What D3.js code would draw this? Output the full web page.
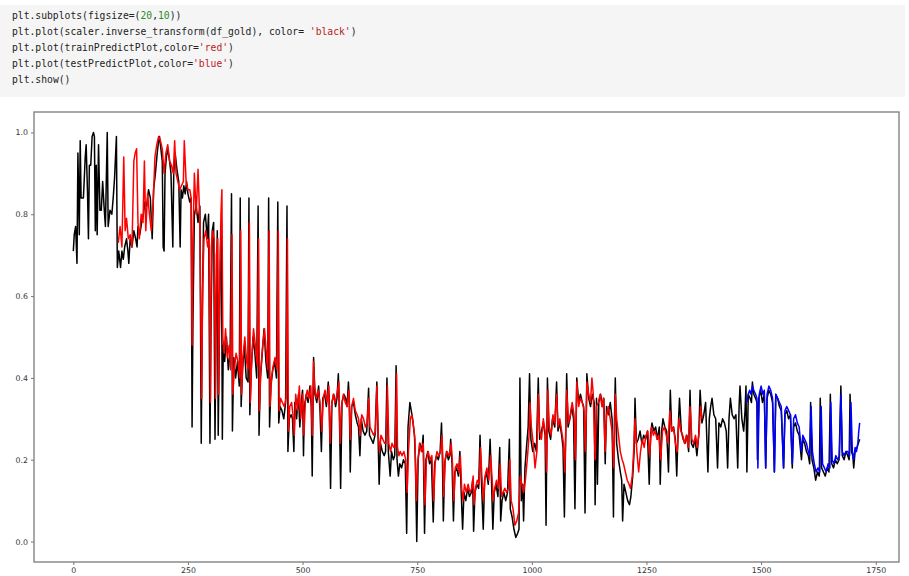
<!DOCTYPE html>
<html>
<head>
<meta charset="utf-8">
<script src="https://cdn.jsdelivr.net/npm/d3@7"></script>
<style>
  body { margin: 0; background: #fff; }
</style>
</head>
<body>
<div id="viz"></div>
<script>
// notebook cell text
const codeLines = [
  [['plt.subplots(figsize=(', 'k'], ['20', 'n'], [',', 'k'], ['10', 'n'], ['))', 'k']],
  [['plt.plot(scaler.inverse_transform(df_gold), color= ', 'k'], ["'black'", 's'], [')', 'k']],
  [['plt.plot(trainPredictPlot,color=', 'k'], ["'red'", 's'], [')', 'k']],
  [['plt.plot(testPredictPlot,color=', 'k'], ["'blue'", 's'], [')', 'k']],
  [['plt.show()', 'k']]
];

// ticks
const xTicks = [0, 250, 500, 750, 1000, 1250, 1500, 1750];
const yTicks = [0.0, 0.2, 0.4, 0.6, 0.8, 1.0];

const actual = [
  [0,0.71],[2,0.75],[5,0.77],[8,0.68],[10,0.95],[13,0.75],[15,0.98],[17,0.84],[22,0.84],[26,0.94],
  [28,0.97],[31,0.85],[33,0.74],[35,0.92],[38,0.92],[41,0.99],[44,1.0],[46,0.99],[48,0.76],[50,0.92],
  [52,0.75],[55,0.97],[58,0.81],[61,0.81],[64,0.88],[67,0.82],[70,0.77],[74,1.0],[76,0.77],[80,0.81],
  [84,0.80],[87,0.84],[90,0.89],[94,0.99],[96,0.67],[99,0.71],
  [100,0.70],[103,0.67],[106,0.71],[109,0.69],[112,0.72],[116,0.74],[119,0.71],[121,0.68],[124,0.74],
  [128,0.72],[132,0.76],[136,0.74],[139,0.72],[141,0.77],[145,0.75],[149,0.78],[153,0.80],[156,0.83],
  [160,0.82],[164,0.86],[168,0.84],[172,0.74],[175,0.86],[179,0.90],[183,0.95],[186,0.98],[188,0.99],
  [191,0.96],[194,0.93],[196,0.72],[198,0.71],[200,0.90],[203,0.94],[206,0.96],[210,0.93],[213,0.90],
  [217,0.72],[219,0.90],[222,0.95],[226,0.91],[230,0.88],[233,0.72],[235,0.86],[238,0.84],[241,0.87],
  [244,0.85],[247,0.88],[250,0.85],[254,0.83],
  [257,0.84],[259,0.28],[261,0.55],[264,0.80],[268,0.82],[272,0.78],[276,0.82],[279,0.24],[281,0.52],
  [284,0.78],[288,0.80],[292,0.74],[295,0.80],[298,0.24],[300,0.50],[303,0.76],[306,0.78],[309,0.25],
  [311,0.50],[314,0.76],[316,0.26],[318,0.46],[321,0.72],[323,0.78],[325,0.25],[327,0.48],[330,0.44],
  [334,0.50],[338,0.42],[342,0.46],[345,0.85],[347,0.27],[350,0.45],[354,0.40],[358,0.44],[362,0.38],
  [364,0.84],[366,0.33],[369,0.42],[373,0.48],[377,0.40],[381,0.39],[383,0.84],[385,0.31],[388,0.42],
  [392,0.50],[396,0.46],[400,0.40],[403,0.82],[405,0.26],[408,0.40],[412,0.46],[416,0.52],[420,0.44],
  [424,0.40],[426,0.84],[428,0.28],[431,0.38],[435,0.42],[439,0.44],[443,0.40],[446,0.83],[448,0.29],
  [451,0.33],[455,0.32],[459,0.30],[463,0.34],[466,0.82],[468,0.22],[471,0.30],[475,0.31],
  [478,0.30],[481,0.22],[483,0.34],[487,0.30],[491,0.36],[494,0.28],[497,0.34],[500,0.37],[502,0.21],
  [504,0.33],[508,0.36],[512,0.34],[516,0.38],[519,0.33],[521,0.16],[524,0.45],[527,0.36],[531,0.34],
  [535,0.38],[538,0.32],[541,0.22],[544,0.35],[548,0.36],[552,0.33],[556,0.39],[558,0.35],[561,0.13],
  [564,0.34],[568,0.36],[572,0.33],[575,0.35],[578,0.41],[580,0.33],[583,0.13],[586,0.34],[590,0.36],
  [594,0.35],[597,0.33],[600,0.39],[602,0.34],[604,0.17],[607,0.33],[611,0.34],[615,0.31],[619,0.29],
  [622,0.28],[625,0.21],[628,0.30],[632,0.27],[636,0.26],[640,0.27],[644,0.375],[646,0.26],[650,0.25],
  [654,0.24],[658,0.26],[662,0.39],[665,0.24],[667,0.14],[670,0.24],[674,0.22],[678,0.21],[681,0.22],
  [684,0.40],[687,0.22],[691,0.16],[694,0.22],[698,0.20],[701,0.21],[704,0.43],[706,0.20],[709,0.16],
  [712,0.19],[716,0.18],[720,0.20],[724,0.19],[727,0.02],[730,0.28],[734,0.34],[737,0.32],[740,0.30],
  [744,0.26],[746,0.20],[749,0.0],[752,0.20],[756,0.24],[760,0.22],[763,0.26],[766,0.02],[769,0.20],
  [773,0.22],[777,0.19],[781,0.20],[785,0.048],[788,0.19],
  [792,0.21],[796,0.20],[800,0.22],[803,0.29],[805,0.20],[807,0.05],[810,0.19],[814,0.22],[818,0.20],
  [821,0.21],[823,0.25],[826,0.19],[829,0.05],[832,0.17],[836,0.18],[840,0.16],[843,0.22],[846,0.12],
  [849,0.03],[852,0.12],[856,0.10],[860,0.13],[864,0.11],[868,0.12],[871,0.15],[873,0.025],[876,0.12],
  [880,0.14],[884,0.13],[887,0.26],[890,0.15],[894,0.03],[897,0.15],[901,0.17],[905,0.14],[909,0.25],
  [912,0.15],[915,0.03],[918,0.12],[922,0.14],[926,0.11],[930,0.23],[932,0.05],[935,0.10],[939,0.12],
  [943,0.10],[947,0.12],[951,0.25],[953,0.08],[957,0.06],[961,0.03],[965,0.01],[969,0.02],[972,0.03],
  [974,0.40],[977,0.10],[980,0.14],[982,0.05],[985,0.18],[989,0.24],[992,0.28],[995,0.41],[998,0.25],
  [1002,0.22],[1006,0.24],[1010,0.22],[1014,0.40],[1017,0.25],[1021,0.27],[1025,0.29],[1029,0.26],
  [1031,0.04],[1034,0.40],[1037,0.27],[1041,0.25],[1045,0.30],[1050,0.28],[1054,0.39],[1057,0.27],
  [1061,0.29],[1065,0.26],[1068,0.23],[1071,0.06],[1076,0.41],[1079,0.28],[1083,0.30],[1087,0.33],
  [1091,0.30],[1094,0.08],[1098,0.40],[1102,0.34],[1106,0.36],[1110,0.34],[1113,0.33],[1116,0.07],
  [1120,0.41],[1124,0.35],[1128,0.33],
  [1132,0.36],[1136,0.34],[1138,0.09],[1141,0.35],[1143,0.14],[1146,0.34],[1150,0.36],[1154,0.33],
  [1157,0.35],[1160,0.19],[1163,0.33],[1167,0.31],[1171,0.34],[1175,0.30],[1178,0.06],[1180,0.28],
  [1182,0.40],[1185,0.24],[1189,0.20],[1193,0.17],[1196,0.15],[1198,0.05],[1201,0.14],[1205,0.12],
  [1209,0.10],[1213,0.09],[1216,0.11],[1220,0.16],[1223,0.22],[1225,0.35],[1228,0.24],[1232,0.25],
  [1236,0.27],[1240,0.24],[1244,0.26],[1248,0.25],[1252,0.27],[1256,0.14],[1259,0.26],[1262,0.29],
  [1266,0.27],[1270,0.28],[1274,0.25],[1278,0.28],[1280,0.14],[1283,0.27],[1286,0.30],[1290,0.28],
  [1294,0.27],[1298,0.17],[1302,0.37],[1305,0.27],[1309,0.28],[1313,0.25],[1316,0.16],[1319,0.27],
  [1322,0.35],[1326,0.27],[1330,0.25],[1334,0.24],[1338,0.26],[1342,0.22],[1345,0.37],[1348,0.24],
  [1352,0.23],[1356,0.25],[1360,0.21],[1364,0.26],[1367,0.37],[1371,0.29],[1375,0.31],[1379,0.34],
  [1384,0.17],[1387,0.30],[1390,0.33],[1393,0.35],[1397,0.31],[1401,0.30],[1405,0.18],[1408,0.29],
  [1412,0.28],[1416,0.30],[1420,0.29],[1424,0.27],[1427,0.18],[1430,0.30],[1433,0.35],[1437,0.31],
  [1441,0.30],[1445,0.31],[1449,0.18],[1452,0.33],[1454,0.38],[1458,0.30],[1462,0.27],[1465,0.32],
  [1467,0.38],[1469,0.17],[1472,0.36],[1476,0.35],[1479,0.34],[1481,0.39],[1484,0.36],[1488,0.35],
  [1491,0.34],[1492,0.20],[1495,0.35],[1499,0.37],[1503,0.34],[1507,0.36],[1510,0.18],[1513,0.35],
  [1517,0.37],[1521,0.36],[1525,0.34],[1529,0.17],[1532,0.36],[1536,0.35],[1540,0.33],[1544,0.32],
  [1549,0.18],[1552,0.31],[1556,0.32],[1560,0.30],[1564,0.31],[1568,0.18],[1571,0.28],[1575,0.29],
  [1579,0.27],[1583,0.26],[1588,0.20],[1591,0.25],[1595,0.24],[1599,0.22],[1603,0.21],[1606,0.19],
  [1608,0.34],[1611,0.20],[1615,0.18],[1619,0.15],[1623,0.17],[1627,0.16],[1629,0.35],[1632,0.18],
  [1636,0.17],[1640,0.16],[1644,0.18],[1648,0.17],[1651,0.36],[1654,0.19],[1658,0.18],[1662,0.20],
  [1666,0.19],[1670,0.20],[1674,0.38],[1677,0.21],[1681,0.20],[1685,0.22],[1689,0.21],[1692,0.20],
  [1694,0.36],[1697,0.22],[1700,0.21],[1702,0.18],[1705,0.22],[1709,0.23],[1712,0.24],[1715,0.25]
];

// train prediction (red)
const trainPredict = [
  [98,0.73],[102,0.77],[106,0.72],[110,0.94],[113,0.76],[116,0.79],[120,0.74],[124,0.75],[128,0.72],
  [132,0.93],[135,0.95],[138,0.96],[141,0.78],[144,0.74],[148,0.80],[152,0.78],[155,0.93],[158,0.76],
  [162,0.85],[166,0.80],[170,0.76],[174,0.82],[178,0.94],[182,0.97],[186,0.99],[190,0.98],[194,0.96],
  [198,0.90],[202,0.95],[206,0.97],[210,0.93],[214,0.92],[218,0.90],[221,0.98],[224,0.90],[228,0.88],
  [232,0.86],[236,0.87],[240,0.88],[242,0.98],[246,0.88],[250,0.86],[254,0.86],[257,0.84],
  [259,0.48],[261,0.74],[264,0.90],[268,0.80],[272,0.91],[276,0.78],[280,0.35],[282,0.62],[285,0.74],
  [289,0.76],[293,0.72],[296,0.74],[299,0.34],[301,0.72],[304,0.76],[307,0.74],[310,0.35],[312,0.70],
  [315,0.74],[317,0.36],[319,0.60],[322,0.80],[324,0.86],[326,0.50],[329,0.46],[332,0.52],[336,0.45],
  [340,0.48],[343,0.42],[346,0.75],[348,0.36],[351,0.42],[355,0.46],[359,0.44],[363,0.40],[365,0.76],
  [367,0.36],[370,0.45],[374,0.50],[378,0.44],[381,0.42],[384,0.78],[386,0.34],[389,0.44],[393,0.52],
  [397,0.48],[401,0.43],[404,0.74],[406,0.32],[409,0.42],[413,0.48],[417,0.52],[421,0.46],[424,0.42],
  [427,0.76],[429,0.33],[432,0.40],[436,0.43],[440,0.45],[444,0.42],[447,0.76],[449,0.32],[452,0.35],
  [456,0.34],[460,0.33],[464,0.35],[467,0.74],[469,0.27],[472,0.33],[476,0.34],
  [479,0.31],[482,0.26],[485,0.36],[489,0.32],[493,0.38],[496,0.30],[500,0.36],[503,0.26],[506,0.34],
  [510,0.37],[514,0.35],[518,0.38],[521,0.26],[524,0.44],[526,0.38],[530,0.35],[534,0.37],[538,0.34],
  [542,0.27],[545,0.35],[549,0.37],[553,0.34],[557,0.38],[560,0.24],[563,0.33],[567,0.36],[571,0.34],
  [575,0.36],[579,0.39],[582,0.24],[585,0.33],[589,0.36],[593,0.34],[597,0.33],[601,0.37],[604,0.25],
  [607,0.33],[611,0.35],[615,0.32],[619,0.31],[622,0.30],[626,0.26],[629,0.31],[633,0.30],[637,0.28],
  [641,0.29],[644,0.35],[647,0.28],[651,0.27],[655,0.26],[659,0.27],[662,0.38],[665,0.26],[668,0.22],
  [671,0.26],[675,0.25],[679,0.24],[682,0.24],[685,0.38],[688,0.24],[692,0.22],[695,0.24],[699,0.23],
  [702,0.23],[705,0.41],[707,0.23],[710,0.21],[713,0.22],[717,0.21],[721,0.22],[725,0.20],[728,0.12],
  [731,0.22],[735,0.30],[738,0.31],[741,0.29],[745,0.25],[748,0.10],[751,0.19],[755,0.24],[759,0.22],
  [763,0.24],[767,0.09],[770,0.20],[774,0.22],[778,0.20],[782,0.21],[786,0.10],[789,0.19],
  [793,0.22],[797,0.21],[801,0.22],[804,0.26],[806,0.20],[808,0.11],[811,0.20],[815,0.22],[819,0.21],
  [822,0.22],[824,0.24],[827,0.19],[830,0.10],[833,0.18],[837,0.19],[841,0.17],[844,0.21],[847,0.13],
  [850,0.10],[853,0.14],[857,0.12],[861,0.14],[865,0.12],[869,0.13],[872,0.16],[874,0.09],[877,0.13],
  [881,0.15],[885,0.14],[888,0.23],[891,0.16],[895,0.10],[898,0.16],[902,0.18],[906,0.15],[910,0.21],
  [913,0.16],[916,0.10],[919,0.13],[923,0.15],[927,0.13],[931,0.19],[934,0.11],[937,0.12],[941,0.13],
  [945,0.12],[949,0.13],[952,0.20],[955,0.10],[959,0.08],[963,0.04],[967,0.05],[971,0.07],[975,0.16],
  [978,0.14],[982,0.12],[986,0.15],[990,0.20],[994,0.26],[996,0.34],[999,0.28],[1003,0.24],[1007,0.18],
  [1011,0.22],[1014,0.36],[1017,0.27],[1021,0.25],[1025,0.30],[1029,0.27],[1032,0.17],[1035,0.37],
  [1038,0.28],[1042,0.26],[1046,0.31],[1050,0.29],[1054,0.36],[1057,0.28],[1061,0.30],[1065,0.27],
  [1069,0.24],[1072,0.17],[1076,0.37],[1080,0.29],[1084,0.31],[1088,0.34],[1092,0.31],[1095,0.20],
  [1098,0.39],[1102,0.33],[1106,0.35],[1110,0.34],[1114,0.32],[1117,0.22],[1120,0.39],[1124,0.36],
  [1128,0.34],
  [1131,0.40],[1134,0.36],[1138,0.20],[1141,0.33],[1145,0.34],[1149,0.36],[1153,0.33],[1156,0.35],
  [1160,0.22],[1163,0.31],[1167,0.33],[1171,0.30],[1175,0.27],[1179,0.18],[1182,0.36],[1185,0.30],
  [1189,0.26],[1193,0.22],[1197,0.20],[1200,0.19],[1204,0.17],[1208,0.15],[1212,0.14],[1215,0.13],
  [1219,0.16],[1222,0.22],[1225,0.30],[1229,0.22],[1233,0.17],[1237,0.22],[1241,0.25],[1245,0.23],
  [1249,0.26],[1253,0.27],[1257,0.21],[1261,0.28],[1265,0.26],[1269,0.27],[1273,0.25],[1277,0.26],
  [1281,0.20],[1285,0.27],[1289,0.28],[1293,0.26],[1297,0.24],[1301,0.32],[1305,0.27],[1309,0.28],
  [1313,0.24],[1317,0.22],[1321,0.30],[1325,0.27],[1329,0.26],[1333,0.24],[1337,0.26],[1341,0.23],
  [1345,0.33],[1349,0.25],[1353,0.24],[1357,0.26],[1361,0.23],[1365,0.27],[1368,0.33],[1371,0.30]
];

// test prediction (blue)
const testPredict = [
  [1469,0.34],[1472,0.36],[1475,0.37],[1478,0.36],[1481,0.38],[1484,0.37],[1488,0.36],[1491,0.35],
  [1493,0.18],[1496,0.36],[1500,0.38],[1504,0.36],[1507,0.37],[1510,0.18],[1513,0.36],[1517,0.38],
  [1521,0.37],[1525,0.35],[1529,0.17],[1532,0.36],[1536,0.35],[1540,0.34],[1544,0.33],[1549,0.18],
  [1552,0.32],[1556,0.33],[1560,0.32],[1564,0.31],[1568,0.19],[1571,0.30],[1575,0.31],[1579,0.29],
  [1583,0.28],[1588,0.22],[1591,0.26],[1595,0.25],[1599,0.24],[1603,0.22],[1606,0.21],[1609,0.33],
  [1612,0.22],[1616,0.19],[1620,0.17],[1624,0.18],[1628,0.17],[1631,0.33],[1634,0.19],[1638,0.18],
  [1642,0.17],[1646,0.19],[1650,0.18],[1652,0.34],[1655,0.20],[1659,0.19],[1663,0.21],[1667,0.20],
  [1671,0.21],[1674,0.36],[1677,0.22],[1681,0.21],[1685,0.22],[1689,0.22],[1693,0.21],[1696,0.34],
  [1699,0.22],[1702,0.20],[1705,0.23],[1708,0.22],[1711,0.24],[1713,0.27],[1715,0.29]
];

const width = 909;
const height = 576;
const plot = { left: 34, right: 899, top: 112, bottom: 562 };

let svg = d3
  .select('#viz')
  .append('svg')
  .attr('width', width)
  .attr('height', height);

// code cell
svg
  .append('rect')
  .attr('x', 0)
  .attr('y', 5)
  .attr('width', 905)
  .attr('height', 92)
  .attr('fill', '#f5f5f5');

const charW = 5.84;
const codeColors = { k: '#222', n: '#2a8a2a', s: '#ba2121' };

codeLines.forEach(function (line, li) {
  let nChars = d3.sum(line, (run) => run[0].length);
  let t = svg
    .append('text')
    .attr('x', 12)
    .attr('y', 19 + li * 16)
    .attr('font-family', "'DejaVu Sans Mono', monospace")
    .attr('font-size', '10.5px')
    .attr('textLength', nChars * charW)
    .attr('lengthAdjust', 'spacingAndGlyphs')
    .style('white-space', 'pre');
  line.forEach(function (run) {
    t.append('tspan').attr('fill', codeColors[run[1]]).text(run[0]);
  });
});

// scales with matplotlib-style 5% margins
let xExt = d3.extent(actual, (d) => d[0]);
let yExt = d3.extent(actual, (d) => d[1]);
let xPad = (xExt[1] - xExt[0]) * 0.05;
let yPad = (yExt[1] - yExt[0]) * 0.05;

let x = d3
  .scaleLinear()
  .domain([xExt[0] - xPad, xExt[1] + xPad])
  .range([plot.left, plot.right]);
let y = d3
  .scaleLinear()
  .domain([yExt[0] - yPad, yExt[1] + yPad])
  .range([plot.bottom, plot.top]);

let line = d3
  .line()
  .x((d) => x(d[0]))
  .y((d) => y(d[1]));

let lines = svg.append('g');

[
  [actual, '#000'],
  [trainPredict, '#f00'],
  [testPredict, '#00f']
].forEach(function (s) {
  lines
    .append('path')
    .datum(s[0])
    .attr('d', line)
    .attr('fill', 'none')
    .attr('stroke', s[1])
    .attr('stroke-width', 1.5)
    .attr('stroke-linejoin', 'round');
});

// axes
let xAxis = svg
  .append('g')
  .attr('transform', 'translate(0,' + plot.bottom + ')')
  .call(d3.axisBottom(x).tickValues(xTicks).tickSize(3).tickPadding(2).tickFormat(d3.format('d')));

let yAxis = svg
  .append('g')
  .attr('transform', 'translate(' + plot.left + ',0)')
  .call(d3.axisLeft(y).tickValues(yTicks).tickSize(3).tickPadding(3).tickFormat(d3.format('.1f')));

[xAxis, yAxis].forEach(function (g) {
  g.select('.domain').remove();
  g.selectAll('line').attr('stroke', '#777');
  g.selectAll('text')
    .attr('font-family', "'DejaVu Sans', sans-serif")
    .attr('font-size', '7.8px')
    .attr('fill', '#333');
});

// frame
svg
  .append('rect')
  .attr('x', plot.left)
  .attr('y', plot.top)
  .attr('width', plot.right - plot.left)
  .attr('height', plot.bottom - plot.top)
  .attr('fill', 'none')
  .attr('stroke', '#7a7a7a')
  .attr('stroke-width', 1.3);
</script>
</body>
</html>
